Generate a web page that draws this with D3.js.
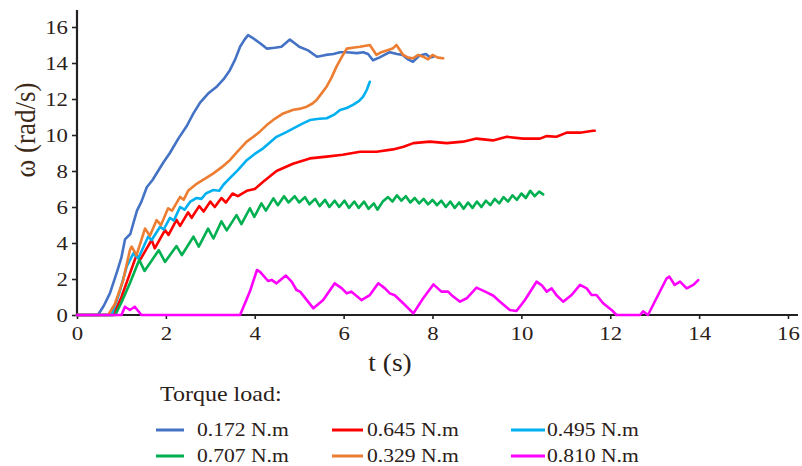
<!DOCTYPE html>
<html>
<head>
<meta charset="utf-8">
<script src="https://cdn.jsdelivr.net/npm/d3@7/dist/d3.min.js"></script>
<style>
  html, body { margin: 0; padding: 0; background: #fff; }
  svg { display: block; }
  text { font-family: "Liberation Serif", "Times New Roman", serif; }
</style>
</head>
<body>
<svg id="chart" width="802" height="466"></svg>
<script>
// Angular speed ω (rad/s) against time t (s) for each torque load: [t, ω]
const load0172 = [[0,0],[0.47,0],[0.6,0.5],[0.74,1.2],[0.9,2.4],[1.0,3.2],[1.08,4.2],[1.2,4.5],[1.28,5.2],[1.35,5.8],[1.45,6.3],[1.57,7.1],[1.7,7.5],[1.8,7.9],[1.95,8.5],[2.09,9.0],[2.28,9.8],[2.47,10.5],[2.62,11.2],[2.77,11.8],[2.95,12.3],[3.15,12.7],[3.3,13.1],[3.44,13.6],[3.56,14.2],[3.67,14.9],[3.77,15.3],[3.85,15.55],[3.95,15.4],[4.12,15.1],[4.27,14.8],[4.45,14.85],[4.6,14.9],[4.79,15.3],[4.9,15.1],[5.0,14.9],[5.2,14.7],[5.4,14.35],[5.6,14.45],[5.77,14.5],[5.92,14.6],[6.07,14.6],[6.3,14.55],[6.44,14.6],[6.55,14.5],[6.66,14.15],[6.8,14.3],[7.04,14.6],[7.2,14.5],[7.33,14.45],[7.45,14.2],[7.56,14.07],[7.7,14.4],[7.85,14.5],[7.95,14.3],[8.02,14.35]];
const load0329 = [[0,0],[0.7,0],[0.85,0.6],[1.04,1.94],[1.19,3.6],[1.23,3.8],[1.34,3.33],[1.53,4.8],[1.64,4.4],[1.79,5.27],[1.89,5.0],[2.05,5.93],[2.14,5.8],[2.32,6.56],[2.4,6.4],[2.5,6.9],[2.7,7.3],[2.9,7.6],[3.07,7.87],[3.25,8.2],[3.44,8.6],[3.62,9.1],[3.82,9.63],[3.97,9.9],[4.12,10.2],[4.27,10.55],[4.45,10.9],[4.64,11.2],[4.87,11.4],[5.0,11.45],[5.17,11.57],[5.3,11.75],[5.39,11.94],[5.5,12.3],[5.62,12.7],[5.73,13.2],[5.84,13.8],[5.95,14.3],[6.07,14.8],[6.2,14.85],[6.37,14.9],[6.59,15.0],[6.74,14.45],[6.85,14.6],[6.97,14.7],[7.1,14.8],[7.19,15.0],[7.34,14.45],[7.45,14.3],[7.56,14.26],[7.68,14.45],[7.79,14.35],[7.9,14.2],[8.0,14.45],[8.12,14.3],[8.24,14.26]];
const load0495 = [[0,0],[0.78,0],[0.95,1.2],[1.12,2.7],[1.27,3.43],[1.38,3.15],[1.6,4.35],[1.68,4.17],[1.87,4.9],[1.95,4.75],[2.09,5.4],[2.18,5.25],[2.32,6.0],[2.42,5.85],[2.55,6.3],[2.69,6.5],[2.8,6.45],[2.9,6.75],[3.06,6.94],[3.2,6.9],[3.3,7.25],[3.44,7.6],[3.62,8.05],[3.82,8.6],[4.0,8.95],[4.19,9.26],[4.49,9.9],[4.7,10.15],[4.87,10.37],[5.05,10.6],[5.24,10.83],[5.45,10.9],[5.62,10.93],[5.8,11.15],[5.92,11.39],[6.07,11.5],[6.21,11.67],[6.35,11.9],[6.44,12.13],[6.52,12.5],[6.59,12.96]];
const load0645 = [[0,0],[0.82,0],[1.0,1.0],[1.19,2.3],[1.34,3.33],[1.42,3.06],[1.68,4.17],[1.75,3.7],[1.98,4.72],[2.06,4.45],[2.24,5.28],[2.32,4.95],[2.5,5.7],[2.58,5.4],[2.75,6.05],[2.85,5.75],[3.0,6.3],[3.1,6.0],[3.25,6.5],[3.35,6.25],[3.5,6.75],[3.62,6.6],[3.82,6.9],[4.0,7.0],[4.19,7.4],[4.49,8.0],[4.86,8.4],[5.24,8.7],[5.62,8.8],[5.98,8.9],[6.37,9.07],[6.74,9.07],[7.11,9.2],[7.35,9.35],[7.57,9.55],[7.94,9.63],[8.32,9.55],[8.69,9.63],[8.99,9.8],[9.36,9.7],[9.67,9.9],[10.04,9.8],[10.42,9.8],[10.57,9.94],[10.79,9.9],[11.02,10.13],[11.32,10.13],[11.61,10.24],[11.65,10.24]];
const load0707 = [[0,0],[0.86,0],[1.0,0.7],[1.19,1.76],[1.4,3.06],[1.52,2.45],[1.84,3.6],[1.98,2.95],[2.24,3.83],[2.36,3.33],[2.62,4.35],[2.74,3.8],[2.95,4.8],[3.07,4.25],[3.25,5.2],[3.37,4.7],[3.59,5.55],[3.7,5.05],[3.89,5.93],[3.99,5.45],[4.15,6.2],[4.25,5.8],[4.42,6.48],[4.52,6.1],[4.66,6.6],[4.76,6.25],[4.9,6.6],[5.0,6.25],[5.13,6.55],[5.23,6.15],[5.36,6.45],[5.46,6.05],[5.58,6.4],[5.68,6.0],[5.8,6.35],[5.9,6.0],[6.02,6.35],[6.12,5.95],[6.24,6.3],[6.34,5.95],[6.46,6.3],[6.56,5.9],[6.68,6.2],[6.76,5.85],[6.88,6.3],[7.0,6.55],[7.1,6.3],[7.2,6.65],[7.3,6.35],[7.4,6.6],[7.5,6.25],[7.6,6.5],[7.7,6.2],[7.8,6.45],[7.9,6.15],[8.0,6.4],[8.1,6.1],[8.2,6.35],[8.3,6.0],[8.4,6.3],[8.5,5.95],[8.6,6.25],[8.7,5.9],[8.8,6.25],[8.9,5.95],[9.0,6.3],[9.1,6.0],[9.2,6.35],[9.3,6.1],[9.4,6.45],[9.5,6.2],[9.6,6.55],[9.7,6.3],[9.8,6.65],[9.9,6.4],[10.0,6.75],[10.1,6.5],[10.2,6.9],[10.3,6.6],[10.4,6.85],[10.49,6.7]];
const load0810 = [[0,0],[1.0,0],[1.08,0.46],[1.19,0.28],[1.3,0.46],[1.45,0],[3.67,0],[3.89,1.3],[4.05,2.5],[4.12,2.4],[4.3,1.89],[4.38,1.95],[4.49,1.76],[4.7,2.19],[4.83,1.85],[4.94,1.39],[5.02,1.3],[5.32,0.37],[5.54,0.83],[5.8,1.76],[5.96,1.48],[6.07,1.2],[6.17,1.3],[6.4,0.83],[6.59,1.11],[6.78,1.76],[6.93,1.48],[7.04,1.2],[7.15,1.1],[7.34,0.65],[7.57,0.09],[7.79,0.93],[8.02,1.7],[8.2,1.3],[8.35,1.3],[8.43,1.1],[8.62,0.74],[8.77,0.93],[8.99,1.52],[9.22,1.26],[9.37,1.07],[9.52,0.74],[9.74,0.28],[9.89,0.22],[10.08,0.83],[10.34,1.85],[10.46,1.65],[10.57,1.3],[10.68,1.48],[10.79,1.1],[10.94,0.74],[11.13,1.11],[11.32,1.67],[11.47,1.48],[11.58,1.11],[11.69,1.11],[11.84,0.65],[12.03,0.28],[12.14,0],[12.67,0],[12.74,0.2],[12.85,0],[13.04,0.93],[13.27,2.04],[13.33,2.13],[13.45,1.67],[13.57,1.85],[13.72,1.48],[13.87,1.67],[13.98,1.94]];

const xTicks = [0, 2, 4, 6, 8, 10, 12, 14, 16];
const yTicks = [0, 2, 4, 6, 8, 10, 12, 14, 16];
const loadLabels = ["0.172 N.m", "0.645 N.m", "0.495 N.m", "0.707 N.m", "0.329 N.m", "0.810 N.m"];
const loadColors = ["#4472c4", "#ff0000", "#00b0f0", "#00b050", "#ed7d31", "#ff00ff"];
const loadData = [load0172, load0645, load0495, load0707, load0329, load0810];

const svg = d3.select("#chart");
const x = d3.scaleLinear().domain([0, 16]).range([77, 788]);
const y = d3.scaleLinear().domain([0, 16]).range([315, 27]);
const SX = 1.2;            // horizontal stretch of the lettering
const ink = "#2a2018";

// axes
const xAxis = svg.append("g").attr("transform", `translate(0,${y(0)})`)
  .call(d3.axisBottom(x).tickValues(xTicks).tickSize(4).tickPadding(8).tickFormat(d3.format("d")));
const yAxis = svg.append("g").attr("transform", `translate(${x(0)},0)`)
  .call(d3.axisLeft(y).tickValues(yTicks).tickSize(5).tickPadding(4).tickFormat(d3.format("d")));
[xAxis, yAxis].forEach(a => {
  a.select(".domain").remove();
  a.selectAll(".tick line").attr("stroke", "#222").attr("stroke-width", 1.6);
  a.selectAll(".tick text").attr("fill", ink).style("font-size", "19px")
    .style("font-family", "'Liberation Serif', serif");
});
xAxis.selectAll(".tick text").attr("transform", `scale(${SX},1)`);
yAxis.selectAll(".tick text").attr("x", -9 / SX).attr("transform", `scale(${SX},1)`);

svg.append("line").attr("x1", x(0)).attr("x2", 798).attr("y1", y(0)).attr("y2", y(0))
  .attr("stroke", "#222").attr("stroke-width", 2.2);
svg.append("line").attr("x1", x(0)).attr("x2", x(0)).attr("y1", 10).attr("y2", y(0) + 1)
  .attr("stroke", "#222").attr("stroke-width", 2.2);

// series
const line = d3.line().x(d => x(d[0])).y(d => y(d[1]));
loadData.forEach((data, i) => {
  svg.append("path").datum(data).attr("d", line)
    .attr("fill", "none").attr("stroke", loadColors[i])
    .attr("stroke-width", 2.6).attr("stroke-linejoin", "round").attr("stroke-linecap", "round");
});

// stretched text helper
function label(px, py, txt, size, opts = {}) {
  return svg.append("text")
    .attr("transform", `translate(${px},${py}) ${opts.rotate ? "rotate(" + opts.rotate + ")" : ""} scale(${opts.sx || SX},${opts.sy || 1})`)
    .attr("text-anchor", opts.anchor || "start")
    .attr("fill", opts.fill || ink)
    .style("font-size", size + "px")
    .text(txt);
}

// axis titles
label(390, 371, "t (s)", 25, { anchor: "middle", sx: 1.1 });
label(35, 130, "ω (rad/s)", 27, { anchor: "middle", rotate: -90, sx: 1, sy: 1.1, fill: "#3d2a18" });

// legend
label(160, 401, "Torque load:", 20);
const legCols = [[156, 184, 197], [332, 363, 367], [511, 545, 547]];
const legRows = [430, 456];
loadLabels.forEach((name, i) => {
  const c = legCols[i % 3], r = legRows[Math.floor(i / 3)];
  svg.append("line").attr("x1", c[0]).attr("x2", c[1]).attr("y1", r).attr("y2", r)
    .attr("stroke", loadColors[i]).attr("stroke-width", 3);
  label(c[2], r + 6, name, 18);
});
</script>
</body>
</html>
